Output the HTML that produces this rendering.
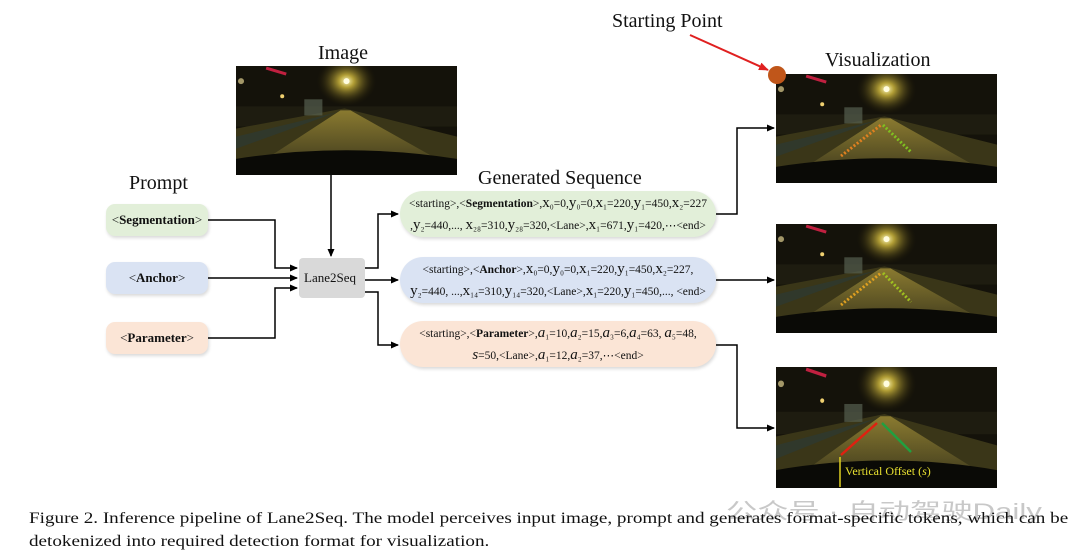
<!DOCTYPE html>
<html><head><meta charset="utf-8"><style>
body{margin:0;width:1080px;height:557px;background:#fff;position:relative;overflow:hidden;font-family:"Liberation Serif",serif;color:#111}
.t{position:absolute;white-space:nowrap}
.pb{position:absolute;width:102px;height:32px;border-radius:9px;display:flex;align-items:center;justify-content:center;font-size:13px;box-shadow:1px 2px 3px rgba(0,0,0,.15)}
.sb{position:absolute;left:400px;width:316px;height:46px;border-radius:23px;font-size:11.5px;text-align:center;line-height:21px;padding-top:2px;box-sizing:border-box;box-shadow:1px 2px 3px rgba(0,0,0,.15)}
.sb span{font-size:15px}
.cap{font-size:16px;transform:scaleX(1.195);transform-origin:0 0}
</style></head><body>
<svg width="1080" height="557" style="position:absolute;left:0;top:0">
<defs>
<radialGradient id="lg"><stop offset="0" stop-color="#fffbc0"/><stop offset=".25" stop-color="#d8c040" stop-opacity=".8"/><stop offset="1" stop-color="#201a05" stop-opacity="0"/></radialGradient>
<linearGradient id="rd" x1="0" y1="0" x2="0" y2="1"><stop offset="0" stop-color="#8a7a30"/><stop offset="1" stop-color="#4a4420"/></linearGradient>
<symbol id="sc" viewBox="0 0 220 108" preserveAspectRatio="none">
<rect width="220" height="108" fill="#14120a"/>
<rect x="0" y="40" width="220" height="20" fill="#1e1c10"/>
<polygon points="0,62 108,42 220,70 220,108 0,108" fill="#3a3618"/>
<polygon points="30,92 104,44 114,44 200,92" fill="url(#rd)"/>
<polygon points="0,70 100,46 0,82" fill="#2a3a38" opacity=".6"/>
<ellipse cx="110" cy="15" rx="30" ry="25" fill="url(#lg)"/>
<circle cx="110" cy="15" r="3" fill="#fffde0"/>
<circle cx="46" cy="30" r="2" fill="#f0d070"/>
<circle cx="5" cy="15" r="3" fill="#e0d090" opacity=".7"/>
<rect x="68" y="33" width="18" height="16" fill="#556050" opacity=".7"/>
<path d="M0,92 Q110,75 220,92 L220,108 L0,108Z" fill="#0a0a06"/>
<path d="M30,2 L50,8" stroke="#c02040" stroke-width="3"/>
</symbol>
<marker id="a" markerWidth="8" markerHeight="8" refX="7" refY="4" orient="auto" markerUnits="userSpaceOnUse"><path d="M0,0.5 L8,4 L0,7.5Z" fill="#000"/></marker>
<marker id="r" markerWidth="10" markerHeight="10" refX="9" refY="5" orient="auto" markerUnits="userSpaceOnUse"><path d="M0,1 L10,5 L0,9Z" fill="#e02020"/></marker>
</defs>
<use href="#sc" x="236" y="66" width="221" height="109"/>
<use href="#sc" x="776" y="74" width="221" height="109"/>
<use href="#sc" x="776" y="224" width="221" height="109"/>
<use href="#sc" x="776" y="367" width="221" height="121"/>
<line x1="841" y1="156" x2="881" y2="125" stroke="#e08020" stroke-width="3" stroke-dasharray="2 2"/>
<line x1="883" y1="125" x2="911" y2="152" stroke="#80c020" stroke-width="3" stroke-dasharray="2 2"/>
<line x1="841" y1="305" x2="881" y2="273" stroke="#e0a020" stroke-width="3" stroke-dasharray="2 2"/>
<line x1="883" y1="273" x2="911" y2="302" stroke="#a0c020" stroke-width="3" stroke-dasharray="2 2"/>
<line x1="841" y1="455" x2="877" y2="423" stroke="#e02010" stroke-width="2.5"/>
<line x1="882" y1="423" x2="911" y2="452" stroke="#20a040" stroke-width="2.5"/>
<line x1="840" y1="457" x2="840" y2="487" stroke="#e0d020" stroke-width="1.5"/>
<rect x="299" y="258" width="66" height="40" rx="4" fill="#d9d9d9"/>
<g stroke="#000" stroke-width="1.5" fill="none">
<polyline points="208,220 275,220 275,268 297,268" marker-end="url(#a)"/>
<polyline points="208,278 297,278" marker-end="url(#a)"/>
<polyline points="208,338 275,338 275,288 297,288" marker-end="url(#a)"/>
<polyline points="331,175 331,256" marker-end="url(#a)"/>
<polyline points="365,268 378,268 378,214 398,214" marker-end="url(#a)"/>
<polyline points="365,280 398,280" marker-end="url(#a)"/>
<polyline points="365,292 378,292 378,345 398,345" marker-end="url(#a)"/>
<polyline points="716,214 737,214 737,128 774,128" marker-end="url(#a)"/>
<polyline points="716,280 774,280" marker-end="url(#a)"/>
<polyline points="716,345 737,345 737,428 774,428" marker-end="url(#a)"/>
</g>
<line x1="690" y1="35" x2="768" y2="70" stroke="#e02020" stroke-width="2" marker-end="url(#r)"/>
<circle cx="777" cy="75" r="9" fill="#c0561a"/>
</svg>
<div class="t" style="left:318px;top:42px;font-size:20px">Image</div>
<div class="t" style="left:612px;top:10px;font-size:20px">Starting Point</div>
<div class="t" style="left:825px;top:49px;font-size:20px">Visualization</div>
<div class="t" style="left:129px;top:172px;font-size:20px">Prompt</div>
<div class="t" style="left:478px;top:167px;font-size:20px">Generated Sequence</div>
<div class="pb" style="left:106px;top:204px;background:#e2efd9">&lt;<b>Segmentation</b>&gt;</div>
<div class="pb" style="left:106px;top:262px;background:#dae3f3">&lt;<b>Anchor</b>&gt;</div>
<div class="pb" style="left:106px;top:322px;background:#fbe5d6">&lt;<b>Parameter</b>&gt;</div>
<div class="t" style="left:304px;top:270px;font-size:13px">Lane2Seq</div>
<div class="sb" style="top:191px;background:#e2efd9">&lt;starting&gt;,&lt;<b>Segmentation</b>&gt;,<span>x</span>₀=0,<span>y</span>₀=0,<span>x</span>₁=220,<span>y</span>₁=450,<span>x</span>₂=227<br>,<span>y</span>₂=440,..., <span>x</span>₂₈=310,<span>y</span>₂₈=320,&lt;Lane&gt;,<span>x</span>₁=671,<span>y</span>₁=420,⋯&lt;end&gt;</div>
<div class="sb" style="top:257px;background:#dae3f3">&lt;starting&gt;,&lt;<b>Anchor</b>&gt;,<span>x</span>₀=0,<span>y</span>₀=0,<span>x</span>₁=220,<span>y</span>₁=450,<span>x</span>₂=227,<br><span>y</span>₂=440, ...,<span>x</span>₁₄=310,<span>y</span>₁₄=320,&lt;Lane&gt;,<span>x</span>₁=220,<span>y</span>₁=450,..., &lt;end&gt;</div>
<div class="sb" style="top:321px;background:#fbe5d6">&lt;starting&gt;,&lt;<b>Parameter</b>&gt;,<i><span>a</span></i>₁=10,<i><span>a</span></i>₂=15,<i><span>a</span></i>₃=6,<i><span>a</span></i>₄=63, <i><span>a</span></i>₅=48,<br><i><span>s</span></i>=50,&lt;Lane&gt;,<i><span>a</span></i>₁=12,<i><span>a</span></i>₂=37,⋯&lt;end&gt;</div>
<div class="t" style="left:845px;top:464px;font-size:12px;color:#e8e030">Vertical Offset (<i>s</i>)</div>
<div class="t" style="left:726px;top:494px;font-size:22px;color:#c8c8c8;font-family:'Liberation Sans','Noto Sans CJK SC',sans-serif;transform:scaleX(1.42);transform-origin:0 0">公众号 · 自动驾驶Daily</div>
<div class="t cap" style="left:29px;top:510px">Figure 2. Inference pipeline of Lane2Seq. The model perceives input image, prompt and generates format-specific tokens, which can be</div>
<div class="t cap" style="left:29px;top:533px">detokenized into required detection format for visualization.</div>
</body></html>
